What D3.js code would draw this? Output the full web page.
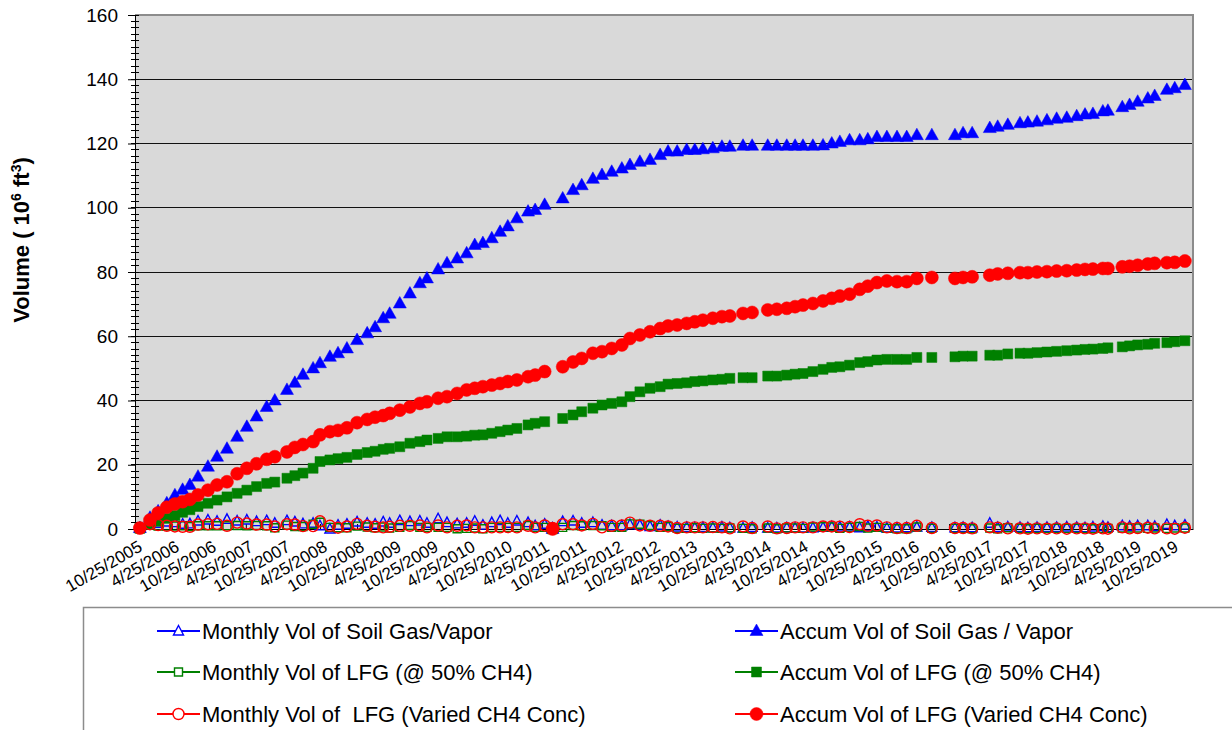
<!DOCTYPE html>
<html><head><meta charset="utf-8">
<script src="https://cdn.jsdelivr.net/npm/d3@7"></script>
<style>
body{margin:0;background:#fff}
svg{display:block;font-family:"Liberation Sans",Arial,sans-serif}
</style>
</head><body>
<svg id="chart" width="1232" height="730"></svg>
<script>
// ---------- DATA ----------
const dates = [
"2005-11-18","2006-01-07","2006-02-16","2006-03-31","2006-05-10","2006-06-17","2006-07-23","2006-09-01","2006-10-20","2006-12-04",
"2007-01-22","2007-03-13","2007-04-30","2007-06-17","2007-08-06","2007-09-15","2007-11-14","2007-12-23","2008-02-01","2008-03-22",
"2008-04-25","2008-06-13","2008-07-23","2008-09-05","2008-10-25","2008-12-14","2009-01-22","2009-03-03","2009-04-04","2009-05-24",
"2009-07-13","2009-08-31","2009-10-05","2009-11-29","2010-01-12","2010-03-03","2010-04-19","2010-05-29","2010-07-08","2010-08-21",
"2010-10-01","2010-11-08","2010-12-23","2011-02-16","2011-03-23","2011-05-09","2011-05-25","2011-06-17","2011-07-05","2011-08-06",
"2011-09-26","2011-11-08","2012-01-02","2012-02-16","2012-04-04","2012-05-24","2012-07-03","2012-08-21","2012-10-10","2012-11-29",
"2013-01-07","2013-02-21","2013-04-09","2013-05-19","2013-06-28","2013-08-16","2013-09-30","2013-11-08","2014-01-12","2014-02-26",
"2014-03-25","2014-05-14","2014-06-28","2014-08-16","2014-09-26","2014-11-04","2014-12-23","2015-02-11","2015-03-26","2015-05-05",
"2015-06-22","2015-08-11","2015-09-20","2015-11-04","2015-12-23","2016-02-11","2016-03-30","2016-05-19","2016-08-01","2016-09-25",
"2016-11-23","2017-01-02","2017-02-16","2017-03-25","2017-05-14","2017-06-22","2017-08-11","2017-10-10","2017-11-18","2018-01-02",
"2018-02-20","2018-04-09","2018-05-29","2018-07-17","2018-08-27","2018-10-05","2018-11-23","2018-12-18","2019-02-27","2019-04-04",
"2019-05-14","2019-07-03","2019-08-06","2019-10-05","2019-11-13","2020-01-02"
];

const monthlySoilGas = [
0.3,2.5,1.8,2.2,2.0,1.5,1.6,2.5,2.8,2.4,
3.0,2.5,2.8,2.3,2.6,1.8,2.6,2.2,1.6,1.8,
1.0,0,1.2,1.5,2.2,1.8,1.5,2.2,1.8,2.6,
2.3,2.5,1.8,3.2,2.0,1.6,1.8,2.4,1.2,2.0,
2.6,1.8,2.5,2.0,1.0,1.5,null,0.3,null,2.3,
2.5,1.8,2.0,1.2,1.0,1.0,1.4,1.2,0.8,1.2,
0.8,0.6,0.5,0.4,0.5,0.4,0.6,0.4,0.3,0.5,
null,0.3,0.3,0.4,0.3,0.3,0.4,0.5,0.7,0.6,
0.6,0.4,0.8,0.6,0.3,0.3,0.4,0.6,0.5,null,
0.4,0.5,0.4,null,1.8,0.5,0.6,0.5,0.4,0.5,
0.5,0.5,0.6,0.5,0.4,0.6,0.8,0.5,1.0,0.8,
1.0,1.0,0.8,1.4,1.0,1.2
];

const accumSoilGas = [
0.3,3.5,5.5,8,10.5,12.2,13.7,16.3,19.4,22.5,
25,28.7,31.8,35,38,40,43.3,45.5,48,50,
51.6,53.6,54.7,56.2,58.8,60.9,62.8,65.6,67,70.2,
73.3,76.5,78,80.8,82.7,84.2,85.8,88.4,89,90.5,
92.5,94.2,96.7,98.8,99.3,100.9,null,0,null,102.9,
105.5,107,109,110.2,111.2,112.2,113.3,114.3,114.9,116.4,
117.5,117.5,118,118,118.2,118.5,119,119,119.3,119.3,
null,119.3,119.3,119.3,119.3,119.3,119.3,119.4,120,120.5,
121,121,121.3,122,122,122,122,122.6,122.6,null,
122.6,123.2,123.2,null,124.8,125.2,125.8,126.3,126.5,126.8,
127.2,127.7,128,128.5,129,129.2,130,130.2,131.3,132,
133,134,134.8,136.7,137.2,138.2
];

const monthlyLFG50 = [
0.2,1.3,0.9,0.9,0.9,1.0,0.8,1.0,1.0,1.0,
1.0,1.1,1.0,1.1,1.0,0.4,1.2,0.8,0.8,1.5,
2.1,0.5,0.4,0.4,0.9,0.6,0.4,0.6,0.3,0.5,
1.1,0.5,0.5,0.5,0.5,0.1,0.2,0.3,0.1,0.5,
0.5,0.5,0.5,1.1,0.5,0.5,null,0.3,null,0.5,
1.1,1.0,1.1,1.0,0.5,0.5,1.6,1.5,1.1,0.5,
0.8,0.2,0.2,0.4,0.2,0.3,0.2,0.3,0.2,0.1,
null,0.3,0.1,0.3,0.3,0.2,0.6,0.7,0.6,0.2,
0.5,0.8,0.3,0.5,0.2,0.1,0.1,0.6,0.2,null,
0.2,0.2,0.1,null,0.3,0.1,0.4,0.2,0.1,0.2,
0.2,0.2,0.2,0.2,0.2,0.1,0.2,0.2,0.3,0.3,
0.3,0.2,0.3,0.2,0.3,0.3
];

const accumLFG50 = [
0.2,1.5,2.4,3.3,4.2,5.2,6,7,8,9,
10,11.1,12.1,13.2,14.2,14.6,15.8,16.6,17.4,18.9,
21,21.5,21.9,22.3,23.2,23.8,24.2,24.8,25.1,25.6,
26.7,27.2,27.7,28.2,28.7,28.7,28.9,29.2,29.3,29.8,
30.3,30.8,31.3,32.4,32.9,33.4,null,0,null,34.4,
35.5,36.5,37.6,38.6,39.1,39.6,41.2,42.7,43.8,44.3,
45.1,45.3,45.5,45.9,46.1,46.4,46.6,46.9,47.1,47.1,
null,47.6,47.6,47.9,48.2,48.4,49,49.7,50.3,50.5,
51,51.8,52.1,52.6,52.8,52.8,52.8,53.4,53.4,null,
53.6,53.8,53.8,null,54.1,54.1,54.5,54.7,54.7,54.9,
55.1,55.3,55.5,55.7,55.9,56,56.2,56.4,56.7,57,
57.3,57.5,57.8,58,58.3,58.6
];

const monthlyLFGVaried = [
0.3,1.5,1.2,1.0,0.8,0.7,0.7,1.4,1.5,1.6,
1.0,2.0,1.7,1.4,1.4,0.8,1.5,1.4,0.9,0.9,
2.4,1.0,0.4,0.8,1.6,1.0,0.7,0.5,0.7,1.0,
1.0,1.1,0.5,1.1,0.5,1.0,1.1,0.5,0.5,0.5,
0.5,0.6,0.5,1.0,0.5,1.1,null,0.3,null,1.5,
1.5,1.1,1.6,0.5,1.0,1.1,2.0,1.1,1.0,1.0,
0.8,0.3,0.5,0.5,0.5,0.6,0.5,0.2,0.8,0.3,
null,0.8,0.2,0.3,0.5,0.5,0.5,0.8,0.8,0.7,
0.6,1.5,1.0,1.1,0.5,0.3,0.3,1.0,0.3,null,
0.3,0.3,0.2,null,0.5,0.4,0.2,0.2,0.1,0.2,
0.1,0.2,0.1,0.2,0.2,0.1,0.2,0.1,0.5,0.2,
0.3,0.4,0.2,0.2,0.1,0.4
];

const accumLFGVaried = [
0.3,2.8,5,6.8,7.8,8.5,9.2,10.6,12.1,13.7,
14.7,17.2,18.9,20.3,21.7,22.5,24,25.4,26.3,27.2,
29.3,30.3,30.7,31.5,33.1,34.1,34.8,35.3,36,37,
38,39.1,39.6,40.7,41.2,42.2,43.3,43.8,44.3,44.8,
45.3,45.9,46.4,47.4,47.9,49,null,0,null,50.5,
52,53.1,54.7,55.2,56.2,57.3,59.3,60.4,61.4,62.4,
63.2,63.5,64,64.5,65,65.6,66.1,66.3,67.1,67.4,
null,68.2,68.4,68.7,69.2,69.7,70.2,71,71.8,72.5,
73.1,74.6,75.6,76.7,77.2,77,77,78,78.3,null,
78,78.3,78.5,null,79,79.4,79.6,79.8,79.8,80,
80.1,80.3,80.4,80.6,80.8,80.9,81.1,81.1,81.6,81.8,
82.1,82.5,82.7,82.9,83,83.4
];

const xTickLabels = [
"10/25/2005","4/25/2006","10/25/2006","4/25/2007","10/25/2007","4/25/2008","10/25/2008",
"4/25/2009","10/25/2009","4/25/2010","10/25/2010","4/25/2011","10/25/2011","4/25/2012",
"10/25/2012","4/25/2013","10/25/2013","4/25/2014","10/25/2014","4/25/2015","10/25/2015",
"4/25/2016","10/25/2016","4/25/2017","10/25/2017","4/25/2018","10/25/2018","4/25/2019","10/25/2019"
];
const yTicks = [0,20,40,60,80,100,120,140,160];
const xDomain = ["2005-10-25","2020-02-11"];

const seriesNames = [
"Monthly Vol of Soil Gas/Vapor","Accum Vol of Soil Gas / Vapor",
"Monthly Vol of LFG (@ 50% CH4)","Accum Vol of LFG (@ 50% CH4)",
"Monthly Vol of  LFG (Varied CH4 Conc)","Accum Vol of LFG (Varied CH4 Conc)"
];
const seriesValues = [monthlySoilGas, accumSoilGas, monthlyLFG50, accumLFG50, monthlyLFGVaried, accumLFGVaried];
const seriesColors = ["#0000ff","#0000ff","#008000","#008000","#ff0000","#ff0000"];
const seriesMarkers = ["triangle","triangle","square","square","circle","circle"];
const seriesFilled = [false,true,false,true,false,true];

// ---------- LAYOUT ----------
const P = {left:135, right:1193, top:15, bottom:529};
const svg = d3.select("#chart");
const parse = d3.timeParse("%Y-%m-%d");
const parseTick = d3.timeParse("%m/%d/%Y");

const x = d3.scaleTime().domain(xDomain.map(parse)).range([P.left, P.right]);
const y = d3.scaleLinear().domain([0,160]).range([P.bottom, P.top]);

// plot background
svg.append("rect").attr("x",P.left).attr("y",P.top)
  .attr("width",P.right-P.left).attr("height",P.bottom-P.top).attr("fill","#d9d9d9");

// gridlines
svg.append("g").selectAll("line").data(yTicks.filter(v=>v>0 && v<160)).join("line")
  .attr("x1",P.left).attr("x2",P.right)
  .attr("y1",d=>y(d)).attr("y2",d=>y(d))
  .attr("stroke","#111").attr("stroke-width",1).attr("shape-rendering","crispEdges");

// top & right border
svg.append("path")
  .attr("d",`M${P.left},${P.top}H${P.right}V${P.bottom}`)
  .attr("fill","none").attr("stroke","#8c8c8c").attr("stroke-width",2);

// y axis
const yAxis = svg.append("g").attr("transform",`translate(${P.left},0)`)
  .call(d3.axisLeft(y).tickValues(yTicks).tickSize(7).tickSizeOuter(0).tickPadding(10).tickFormat(d3.format("d")));
yAxis.selectAll("text").attr("font-size",19).attr("fill","#000").attr("font-family","Liberation Sans, Arial, sans-serif");
yAxis.selectAll("line,path").attr("stroke","#000");
// minor ticks
svg.append("g").selectAll("line").data(d3.range(0,161,2)).join("line")
  .attr("x1",P.left-4).attr("x2",P.left+4)
  .attr("y1",d=>y(d)).attr("y2",d=>y(d))
  .attr("stroke","#000").attr("stroke-width",1).attr("shape-rendering","crispEdges");

// x axis
const tickDates = xTickLabels.map(parseTick);
const xAxis = svg.append("g").attr("transform",`translate(0,${P.bottom})`)
  .call(d3.axisBottom(x).tickValues(tickDates).tickSize(-5).tickSizeOuter(0)
    .tickFormat((d,i)=>xTickLabels[i]));
xAxis.selectAll("line,path").attr("stroke","#000");
xAxis.selectAll("text")
  .attr("font-size",17).attr("fill","#000").attr("font-family","Liberation Sans, Arial, sans-serif")
  .attr("text-anchor","end").attr("y",0).attr("dy",0)
  .attr("transform","translate(8,21) rotate(-30)");

// y title
const title = svg.append("text")
  .attr("transform","translate(29,240) rotate(-90)")
  .attr("text-anchor","middle").attr("font-weight","bold").attr("font-size",22).attr("fill","#000");
title.append("tspan").text("Volume ( 10");
title.append("tspan").text("6").attr("font-size",14).attr("dy",-8);
title.append("tspan").text(" ft").attr("dy",8);
title.append("tspan").text("3").attr("font-size",14).attr("dy",-8);
title.append("tspan").text(")").attr("dy",8);

// markers
function markerPath(type, filled){
  if(type==="triangle") return filled ? "M0,-7L6.5,4.5L-6.5,4.5Z" : "M0,-5.5L5,4L-5,4Z";
  if(type==="square") return filled ? "M-5,-5H5V5H-5Z" : "M-4,-4H4V4H-4Z";
  const r = filled ? 6.5 : 5.5;
  return `M${r},0A${r},${r} 0 1,1 ${-r},0A${r},${r} 0 1,1 ${r},0Z`;
}
function drawMarker(sel, i){
  sel.attr("d", markerPath(seriesMarkers[i], seriesFilled[i]))
    .attr("fill", seriesFilled[i] ? seriesColors[i] : "none")
    .attr("stroke", seriesColors[i])
    .attr("stroke-width", seriesFilled[i] ? 0.5 : 1.4);
}

const dateObjs = dates.map(parse);

seriesValues.forEach((vals,i)=>{
  const pts = vals.map((v,k)=>({t:dateObjs[k], v:v}));
  const g = svg.append("g");
  g.selectAll("path.m").data(pts.filter(d=>d.v!=null)).join("path").attr("class","m")
    .attr("transform",d=>`translate(${x(d.t)},${y(d.v)})`)
    .call(drawMarker, i);
});

// legend
svg.append("rect").attr("x",83.5).attr("y",607.5).attr("width",1200).attr("height",200)
  .attr("fill","#fff").attr("stroke","#8c8c8c").attr("stroke-width",1.5);
const colX = [157,735], rowY = [631,672,714];
seriesNames.forEach((name,i)=>{
  const lx = colX[i%2], ly = rowY[Math.floor(i/2)];
  const g = svg.append("g");
  g.append("line").attr("x1",lx).attr("x2",lx+43).attr("y1",ly).attr("y2",ly)
    .attr("stroke",seriesColors[i]).attr("stroke-width",2);
  g.append("path").attr("transform",`translate(${lx+21.5},${ly})`).call(drawMarker,i)
    .attr("fill", seriesFilled[i] ? seriesColors[i] : "#fff");
  g.append("text").attr("x",lx+45).attr("y",ly).attr("dy","0.35em")
    .attr("font-size",22).attr("fill","#000").style("white-space","pre").text(name);
});
</script>
</body></html>
